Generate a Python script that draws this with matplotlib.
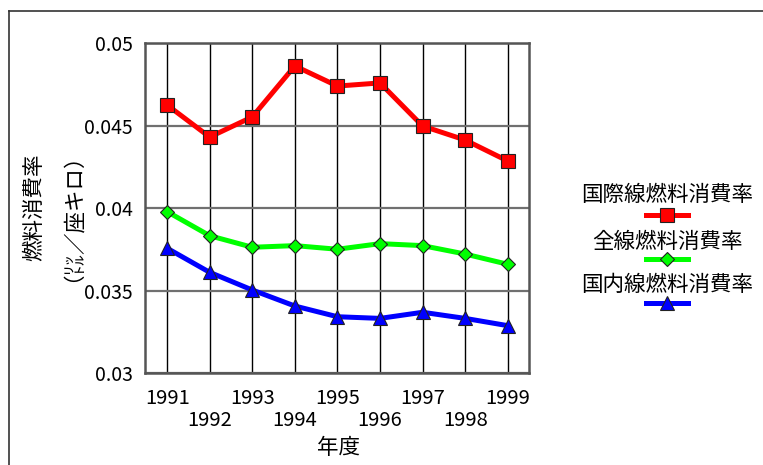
import matplotlib
matplotlib.use("Agg")
import matplotlib.pyplot as plt
from matplotlib.lines import Line2D

plt.rcParams["font.family"] = ["Noto Sans CJK JP", "DejaVu Sans"]

years = ["1991", "1992", "1993", "1994", "1995", "1996", "1997", "1998", "1999"]
intl = [0.04624, 0.04430, 0.04552, 0.04861, 0.04739, 0.04758, 0.04497, 0.04412, 0.04285]
total = [0.03978, 0.03832, 0.03762, 0.03772, 0.03750, 0.03784, 0.03772, 0.03721, 0.03659]
domestic = [0.03756, 0.03610, 0.03503, 0.03406, 0.03341, 0.03331, 0.03368, 0.03331, 0.03287]

labels = ["国際線燃料消費率", "全線燃料消費率", "国内線燃料消費率"]
colors = ["#ff0000", "#00ff00", "#0000ff"]
markers = ["s", "D", "^"]
msizes = [10, 7.5, 10]
yticks = [0.03, 0.035, 0.04, 0.045, 0.05]
ytick_labels = ["0.03", "0.035", "0.04", "0.045", "0.05"]

W, H = 763, 465
fig = plt.figure(figsize=(W / 100, H / 100), dpi=100)
ax = fig.add_axes([145 / W, 1 - 373 / H, 384 / W, 330 / H])

x = list(range(len(years)))
for vals, c, m, ms in zip([intl, total, domestic], colors, markers, msizes):
    ax.plot(x, vals, color=c, lw=3.6, marker=m, ms=ms, mfc=c, mec="#222222", mew=0.8, zorder=3)

ax.set_xlim(-0.52, 8.5)
ax.set_ylim(0.03, 0.05)
ax.set_yticks(yticks)
ax.set_yticklabels(ytick_labels, fontsize=14)
ax.set_xticks(x)
ax.set_xticklabels(years, fontsize=14.5)
ax.tick_params(length=0)
ax.tick_params(axis="y", pad=9)
for i, t in enumerate(ax.xaxis.get_major_ticks()):
    t.set_pad(11 if i % 2 == 0 else 27)

ax.grid(axis="y", color="#707070", lw=1.6)
ax.grid(axis="x", color="black", lw=1.0)
ax.set_axisbelow(True)
for s in ax.spines.values():
    s.set_color("#555555")
    s.set_linewidth(1.8)

fig.text(338 / W, 1 - 448 / H, "年度", ha="center", va="center", fontsize=15.5)
fig.text(48 / W, 1 - 207 / H, "燃料消費率\n（㍑／座キロ）", rotation=90,
         ha="center", va="center", fontsize=15.5, linespacing=1.35)

# legend: label text above a sample of the line
text_y = [195, 242, 285]
line_y = [215, 259, 303]
for lab, c, m, ms, ty, ly in zip(labels, colors, markers, msizes, text_y, line_y):
    fig.text(667 / W, 1 - ty / H, lab, ha="center", va="center", fontsize=15.5)
    fig.add_artist(Line2D([646 / W, 688 / W], [1 - ly / H, 1 - ly / H], color=c, lw=3.6,
                          transform=fig.transFigure))
    fig.add_artist(Line2D([667 / W], [1 - ly / H], color=c, marker=m, ms=ms, mfc=c,
                          mec="#222222", mew=0.8, transform=fig.transFigure))

# outer frame (top and left edges visible)
fig.add_artist(Line2D([9 / W, 1], [1 - 11 / H, 1 - 11 / H], color="#333333", lw=1.2,
                      transform=fig.transFigure))
fig.add_artist(Line2D([9 / W, 9 / W], [0, 1 - 11 / H], color="#333333", lw=1.2,
                      transform=fig.transFigure))

fig.savefig("out.png", dpi=100)
